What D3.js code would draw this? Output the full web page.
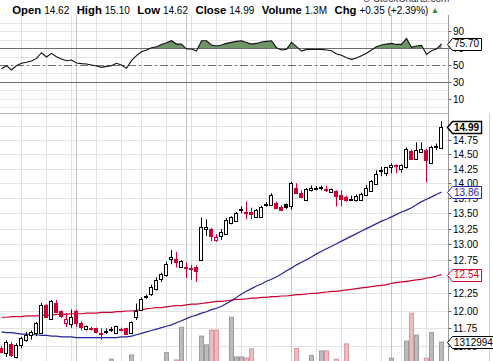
<!DOCTYPE html>
<html><head><meta charset="utf-8">
<script src="https://cdn.jsdelivr.net/npm/d3@7"></script>
<style>html,body{margin:0;padding:0;background:#fff;overflow:hidden}svg{display:block;font-family:"Liberation Sans",Arial,sans-serif}</style>
</head><body><svg id="c" width="493" height="361"></svg>
<script>
const opens=[11.47,11.41,11.53,11.35,11.52,11.58,11.65,11.69,11.69,12.09,11.88,12.12,12.00,11.83,11.81,12.00,11.83,11.74,11.76,11.75,11.69,11.71,11.73,11.68,11.74,11.75,11.68,11.91,12.02,12.21,12.25,12.32,12.47,12.53,12.78,12.78,12.65,12.65,12.64,12.65,12.77,13.26,13.26,13.08,13.14,13.17,13.35,13.39,13.57,13.53,13.53,13.45,13.44,13.65,13.65,13.68,13.61,13.66,13.62,13.92,13.85,13.73,13.90,13.91,13.92,13.91,13.86,13.88,13.81,13.78,13.74,13.72,13.73,13.81,13.88,14.00,14.22,14.18,14.29,14.32,14.25,14.28,14.57,14.42,14.55,14.59,14.36,14.64,14.62];
const highs=[11.50,11.58,11.56,11.54,11.63,11.70,11.72,11.84,12.12,12.10,12.16,12.16,12.01,11.97,12.02,12.02,11.85,11.79,11.77,11.76,11.75,11.75,11.77,11.79,11.76,11.76,11.85,12.11,12.20,12.24,12.39,12.50,12.57,12.74,12.92,12.89,12.76,12.73,12.69,12.68,13.44,13.41,13.27,13.17,13.25,13.43,13.46,13.53,13.62,13.70,13.60,13.58,13.63,13.69,13.84,13.70,13.64,13.67,14.03,14.01,13.89,13.93,13.97,13.96,13.97,13.97,13.92,13.89,13.89,13.80,13.80,13.82,13.85,13.98,14.06,14.23,14.29,14.29,14.35,14.33,14.33,14.63,14.59,14.72,14.72,14.61,14.66,14.70,15.10];
const lows=[11.40,11.35,11.35,11.33,11.47,11.56,11.59,11.64,11.68,11.90,11.87,11.97,11.90,11.77,11.76,11.77,11.72,11.72,11.72,11.68,11.59,11.67,11.70,11.67,11.71,11.66,11.67,11.87,12.01,12.18,12.22,12.30,12.43,12.51,12.70,12.65,12.64,12.49,12.46,12.43,12.75,13.14,13.06,13.05,13.08,13.16,13.33,13.37,13.51,13.41,13.41,13.43,13.43,13.62,13.63,13.58,13.55,13.58,13.57,13.84,13.76,13.72,13.87,13.89,13.89,13.86,13.85,13.62,13.62,13.70,13.71,13.70,13.72,13.80,13.87,13.98,14.13,14.13,14.18,14.18,14.19,14.26,14.42,14.41,14.55,14.02,14.34,14.58,14.62];
const closes=[11.42,11.56,11.38,11.52,11.61,11.66,11.70,11.82,12.09,11.92,12.15,11.99,11.93,11.88,11.91,11.82,11.77,11.78,11.75,11.70,11.68,11.72,11.74,11.78,11.73,11.67,11.84,12.00,12.18,12.22,12.36,12.46,12.55,12.71,12.81,12.74,12.75,12.64,12.63,12.59,13.28,13.29,13.14,13.13,13.21,13.40,13.44,13.51,13.58,13.51,13.49,13.56,13.61,13.66,13.81,13.60,13.57,13.61,14.01,13.85,13.78,13.91,13.92,13.93,13.94,13.90,13.91,13.79,13.74,13.73,13.75,13.80,13.83,13.92,14.04,14.16,14.23,14.28,14.33,14.31,14.32,14.61,14.43,14.58,14.61,14.41,14.63,14.65,14.99];
const priorClose=11.50;
const volumes=[0.45,0.38,0.42,0.35,0.40,0.33,0.30,0.45,0.52,0.48,0.50,0.44,0.36,0.31,0.34,0.47,0.33,0.28,0.25,0.30,0.42,0.30,0.63,0.38,0.27,0.35,0.80,0.52,0.50,0.40,0.46,0.50,0.48,0.89,0.52,0.60,1.90,0.50,0.42,0.45,1.55,1.20,1.79,1.79,0.50,0.53,2.30,0.72,0.72,0.68,1.04,0.45,0.50,0.38,0.52,0.48,0.40,0.36,0.54,1.06,0.50,0.47,0.78,0.42,0.96,0.96,0.38,0.63,0.52,1.24,0.40,0.44,0.47,0.50,0.53,0.52,0.41,0.46,0.67,0.40,0.49,1.35,2.46,1.59,0.53,0.67,1.69,0.50,1.312994];
const rsi=[46.2,49.8,44.7,49.8,52.6,53.8,55.3,58.5,65.2,60.1,64.5,60.5,57.7,55.7,56.5,53.0,52.2,51.8,50.6,49.4,47.8,49.0,49.8,52.6,50.6,46.6,55.7,61.7,66.4,68.4,71.2,72.4,75.1,77.1,79.5,75.5,75.5,69.6,69.6,67.2,79.5,79.5,74.4,73.2,74.4,76.3,77.5,78.7,79.5,77.5,75.5,76.3,77.9,78.7,79.5,71.2,68.4,69.2,77.5,72.4,67.2,69.2,69.2,69.2,69.2,68.4,67.6,63.7,62.1,59.3,57.3,58.9,61.7,64.5,68.4,72.4,74.4,75.5,76.3,75.1,75.1,82.3,71.6,73.2,74.0,63.3,67.6,69.6,75.7];
const ma50=[11.70,11.69,11.69,11.68,11.67,11.67,11.66,11.66,11.65,11.65,11.64,11.64,11.63,11.63,11.63,11.62,11.62,11.62,11.62,11.62,11.62,11.62,11.62,11.62,11.63,11.63,11.64,11.66,11.68,11.70,11.72,11.74,11.76,11.78,11.80,11.83,11.86,11.89,11.92,11.94,11.97,11.99,12.02,12.04,12.07,12.11,12.15,12.20,12.25,12.29,12.33,12.37,12.40,12.44,12.47,12.51,12.55,12.60,12.64,12.69,12.73,12.77,12.81,12.86,12.90,12.94,12.98,13.02,13.06,13.10,13.14,13.18,13.22,13.26,13.30,13.34,13.38,13.41,13.45,13.49,13.53,13.56,13.60,13.65,13.70,13.74,13.78,13.82,13.86];
const ma200=[11.91,11.91,11.92,11.92,11.92,11.93,11.93,11.93,11.94,11.94,11.94,11.95,11.95,11.95,11.96,11.96,11.96,11.97,11.97,11.97,11.98,11.98,11.98,11.99,11.99,12.00,12.00,12.01,12.02,12.03,12.04,12.05,12.05,12.06,12.07,12.08,12.08,12.09,12.10,12.10,12.11,12.12,12.13,12.14,12.14,12.15,12.16,12.17,12.17,12.18,12.19,12.19,12.20,12.20,12.21,12.21,12.22,12.22,12.23,12.24,12.24,12.25,12.26,12.26,12.27,12.28,12.29,12.29,12.30,12.31,12.32,12.33,12.34,12.35,12.36,12.37,12.38,12.39,12.41,12.42,12.43,12.44,12.45,12.46,12.47,12.49,12.50,12.52,12.54];
const weekTicks=[4,9,14,19,24,28,33,38,43,48,53,58,63,68,73,76,80,85];
const monthTicks=[15,37,58,78];
const priceTicks=[15.00,14.75,14.50,14.25,14.00,13.75,13.50,13.25,13.00,12.75,12.50,12.25,12.00,11.75,11.50];
const rsiGrid=[0,10,20,30,40,50,60,70,80,90,100];
const rsiLabels=[90,70,50,30,10];
const headerLabels=["Open","High","Low","Close","Volume","Chg"];
const headerValues=["14.62","15.10","14.62","14.99","1.3M","+0.35 (+2.39%)"];

const svg=d3.select('#c');
const RED="#cc0033", NAVY="#23239b", GREEN_FILL="#6f9467";
const plotR=448.5, rsiTop=15, rsiBot=113.5, priceBot=361;
const x=d3.scaleLinear().domain([0,88]).range([1.5,441.5]);
const yP=d3.scaleLog().domain([11.295,15.253]).range([361,113]);
const yR=d3.scaleLinear().domain([0,100]).range([107.5,23.5]);
const yV=d3.scaleLinear().domain([0,3]).range([375,299.7]);
const crisp=v=>Math.round(v-0.5)+0.5;
const idx=d3.range(opens.length);

svg.append("rect").attr("width",493).attr("height",361).attr("fill","#fff");

const defs=svg.append("defs");
defs.append("clipPath").attr("id","pclip").append("rect").attr("x",0).attr("y",rsiBot+0.5).attr("width",plotR).attr("height",priceBot-rsiBot);
defs.append("clipPath").attr("id","above70").append("rect").attr("x",0).attr("y",rsiTop).attr("width",plotR).attr("height",yR(70)-rsiTop);

// grids
const grid=svg.append("g");
grid.selectAll(".rg").data(rsiGrid).join("line").attr("x1",0).attr("x2",plotR)
  .attr("y1",d=>crisp(yR(d))).attr("y2",d=>crisp(yR(d))).attr("stroke","#e6e6e6");
grid.selectAll(".pg").data(priceTicks).join("line").attr("x1",0).attr("x2",plotR)
  .attr("y1",d=>crisp(yP(d))).attr("y2",d=>crisp(yP(d))).attr("stroke","#e3e3e3");
grid.selectAll(".wk").data(weekTicks).join("line").attr("x1",d=>x(d)).attr("x2",d=>x(d))
  .attr("y1",rsiTop).attr("y2",priceBot).attr("stroke","#e1e1e1");
grid.selectAll(".mo").data(monthTicks).join("line").attr("x1",d=>x(d)-0.0).attr("x2",d=>x(d))
  .attr("y1",rsiTop).attr("y2",priceBot).attr("stroke","#c6c6c6");

// RSI panel
const rsiG=svg.append("g");
const area=d3.area().x((d,i)=>x(i)).y0(yR(70)).y1(d=>yR(d));
rsiG.append("path").datum(rsi).attr("d",area).attr("fill",GREEN_FILL).attr("clip-path","url(#above70)");
rsiG.append("line").attr("x1",0).attr("x2",plotR).attr("y1",crisp(yR(70))).attr("y2",crisp(yR(70))).attr("stroke","#6e6e6e");
rsiG.append("line").attr("x1",0).attr("x2",plotR).attr("y1",crisp(yR(30))).attr("y2",crisp(yR(30))).attr("stroke","#6e6e6e");
rsiG.append("line").attr("x1",0).attr("x2",plotR).attr("y1",crisp(yR(50))).attr("y2",crisp(yR(50))).attr("stroke","#6e6e6e").attr("stroke-dasharray","8,3,2,3");
rsiG.append("path").datum(rsi).attr("d",d3.line().x((d,i)=>x(i)).y(d=>yR(d))).attr("fill","none").attr("stroke","#111").attr("stroke-width",1.1);

// price panel
const pG=svg.append("g").attr("clip-path","url(#pclip)");
const upDay=i=>closes[i]>=(i===0?priorClose:closes[i-1]);
// volume
pG.selectAll(".vol").data(idx).join("rect")
  .attr("x",i=>x(i)-2).attr("width",4)
  .attr("y",i=>yV(volumes[i])).attr("height",i=>yV(0)-yV(volumes[i]))
  .attr("fill",i=>upDay(i)?"#bbbbbb":"#ecbcc1")
  .attr("stroke",i=>upDay(i)?"#9c9c9c":"#dc97a0");
// moving averages
pG.append("path").datum(ma200).attr("d",d3.line().x((d,i)=>x(i)).y(d=>yP(d))).attr("fill","none").attr("stroke",RED).attr("stroke-width",1.2);
pG.append("path").datum(ma50).attr("d",d3.line().x((d,i)=>x(i)).y(d=>yP(d))).attr("fill","none").attr("stroke",NAVY).attr("stroke-width",1.2);
// candles
const cG=pG.append("g");
idx.forEach(i=>{
  const col=upDay(i)?"#000":RED;
  const hollow=closes[i]>opens[i];
  const cx=x(i);
  cG.append("line").attr("x1",cx).attr("x2",cx).attr("y1",yP(highs[i])).attr("y2",yP(lows[i])).attr("stroke",col);
  const top=Math.round(yP(Math.max(opens[i],closes[i])));
  const bot=Math.round(yP(Math.min(opens[i],closes[i])));
  const h=Math.max(1,bot-top);
  cG.append("rect").attr("x",cx-2).attr("width",3).attr("y",top+0.5).attr("height",h)
    .attr("fill",hollow?"#fff":col).attr("stroke",col);
});

// frame
svg.append("line").attr("x1",0).attr("x2",plotR).attr("y1",rsiBot).attr("y2",rsiBot).attr("stroke","#b4b4b4");
svg.append("line").attr("x1",plotR).attr("x2",plotR).attr("y1",rsiTop).attr("y2",priceBot).attr("stroke","#9a9a9a");
svg.append("line").attr("x1",489.5).attr("x2",489.5).attr("y1",rsiBot).attr("y2",priceBot).attr("stroke","#d0d0d0");

// axes labels
const ax=svg.append("g").attr("font-size",10).attr("fill","#000");
ax.selectAll(".pt").data(priceTicks).join("line").attr("x1",plotR).attr("x2",plotR+3)
  .attr("y1",d=>crisp(yP(d))).attr("y2",d=>crisp(yP(d))).attr("stroke","#666");
ax.selectAll(".pl").data(priceTicks).join("text").attr("x",453).attr("y",d=>yP(d)).attr("dy","0.35em").text(d=>d3.format(".2f")(d));
ax.selectAll(".rt").data(rsiLabels).join("line").attr("x1",plotR).attr("x2",plotR+3)
  .attr("y1",d=>crisp(yR(d))).attr("y2",d=>crisp(yR(d))).attr("stroke","#666");
ax.selectAll(".rl").data(rsiLabels).join("text").attr("x",453).attr("y",d=>yR(d)).attr("dy","0.35em").text(d=>d);

// tags
function tag(yc,txt,color,bold){
  const g=svg.append("g");
  const t=g.append("text").attr("x",454).attr("y",yc).attr("dy","0.35em").attr("font-size",10)
    .attr("font-weight",bold?"bold":"normal").attr("fill",color).text(txt);
  const w=t.node().getComputedTextLength();
  const yt=Math.round(yc)-6+0.5, yb=Math.round(yc)+6+0.5, ym=Math.round(yc)+0.5;
  g.insert("path","text").attr("d",`M447.5,${ym}L452.5,${yt}L${452.5+w+4},${yt}L${452.5+w+4},${yb}L452.5,${yb}Z`)
    .attr("fill","#fff").attr("stroke",color).attr("stroke-width",bold?1.4:1);
}
tag(yP(closes[88]),d3.format(".2f")(closes[88]),"#000",true);
tag(yP(ma50[88]),d3.format(".2f")(ma50[88]),NAVY,false);
tag(yP(ma200[88]),d3.format(".2f")(ma200[88]),RED,false);
tag(yV(volumes[88]),d3.format("d")(Math.round(volumes[88]*1e6)),"#000",false);
tag(yR(75.70),"75.70","#000",false);

// header
const hdr=svg.append("text").attr("y",13.5).attr("fill","#000");
let hx=12.3;
const hG=svg.append("g");
headerLabels.forEach((l,k)=>{
  const a=hG.append("text").attr("x",hx).attr("y",13.5).attr("font-weight","bold").attr("font-size",11.3).text(l);
  hx+=a.node().getComputedTextLength()+3;
  const b=hG.append("text").attr("x",hx).attr("y",13.5).attr("font-size",10).text(headerValues[k]);
  hx+=b.node().getComputedTextLength()+7.5;
});
hG.append("text").attr("x",hx-5).attr("y",12.5).attr("font-size",8).attr("fill","#2b8a2b").text("▲");
svg.append("text").attr("x",363).attr("y",1.5).attr("font-size",10).attr("fill","#333").text("© StockCharts.com");
</script></body></html>
